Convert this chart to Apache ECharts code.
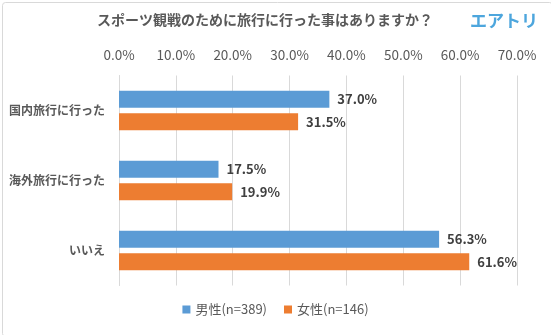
<!DOCTYPE html>
<html><head><meta charset="utf-8">
<script src="https://cdn.jsdelivr.net/npm/echarts@6/dist/echarts.min.js"></script>
<style>html,body{margin:0;padding:0;background:#fff}#c{width:551px;height:335px}</style>
</head><body><div id="c"></div>
<script>
const categories = ['国内旅行に行った', '海外旅行に行った', 'いいえ'];
const maleValues = [37.0, 17.5, 56.3];
const femaleValues = [31.5, 19.9, 61.6];
const seriesNames = ['男性(n=389)', '女性(n=146)'];
const titleText = 'スポーツ観戦のために旅行に行った事はありますか？';
const logoText = 'エアトリ';

const font = "'Noto Sans CJK JP', 'Noto Sans', sans-serif";
const chart = echarts.init(document.getElementById('c'), null, {renderer: 'canvas'});
const labelCfg = {
  show: true, position: 'right', distance: 8,
  formatter: p => p.value.toFixed(1) + '%',
  color: '#404040', fontSize: 13, fontWeight: 'bold', fontFamily: font
};
chart.setOption({
  animation: false,
  backgroundColor: '#fff',
  textStyle: {fontFamily: font},
  graphic: [
    {type: 'rect', left: 0, top: 0, shape: {x: 0.5, y: 0.5, width: 550, height: 334, r: 3},
     style: {fill: 'none', stroke: '#d9d9d9', lineWidth: 1}, silent: true},
    {type: 'text', left: 97, top: 13, style: {text: titleText, fill: '#595959', font: "bold 14px " + font}},
    {type: 'text', left: 470, top: 12, style: {text: logoText, fill: '#4da6dd', font: "bold 17px " + font}}
  ],
  legend: {
    bottom: 14, left: 'center', itemWidth: 8, itemHeight: 8, itemGap: 17,
    icon: 'rect',
    textStyle: {color: '#595959', fontSize: 13, fontFamily: font},
    data: seriesNames
  },
  grid: {left: 119, right: 34, top: 75.5, bottom: 49.5, containLabel: false},
  xAxis: {
    type: 'value', position: 'top', min: 0, max: 70, interval: 10,
    axisLine: {show: false}, axisTick: {show: false},
    splitLine: {show: true, lineStyle: {color: '#d9d9d9', width: 1}},
    axisLabel: {formatter: v => v.toFixed(1) + '%', color: '#595959', fontSize: 13.5, margin: 14, fontFamily: font}
  },
  yAxis: {
    type: 'category', inverse: true, data: categories,
    axisLine: {show: true, lineStyle: {color: '#d9d9d9'}},
    axisTick: {show: false},
    axisLabel: {color: '#595959', fontSize: 12, fontWeight: 'bold', margin: 14, fontFamily: font}
  },
  series: [
    {name: seriesNames[0], type: 'bar', data: maleValues, barWidth: 17, barGap: '33%',
     itemStyle: {color: '#5B9BD5'}, label: labelCfg},
    {name: seriesNames[1], type: 'bar', data: femaleValues, barWidth: 17, barGap: '33%',
     itemStyle: {color: '#ED7D31'}, label: labelCfg}
  ]
});
</script></body></html>
